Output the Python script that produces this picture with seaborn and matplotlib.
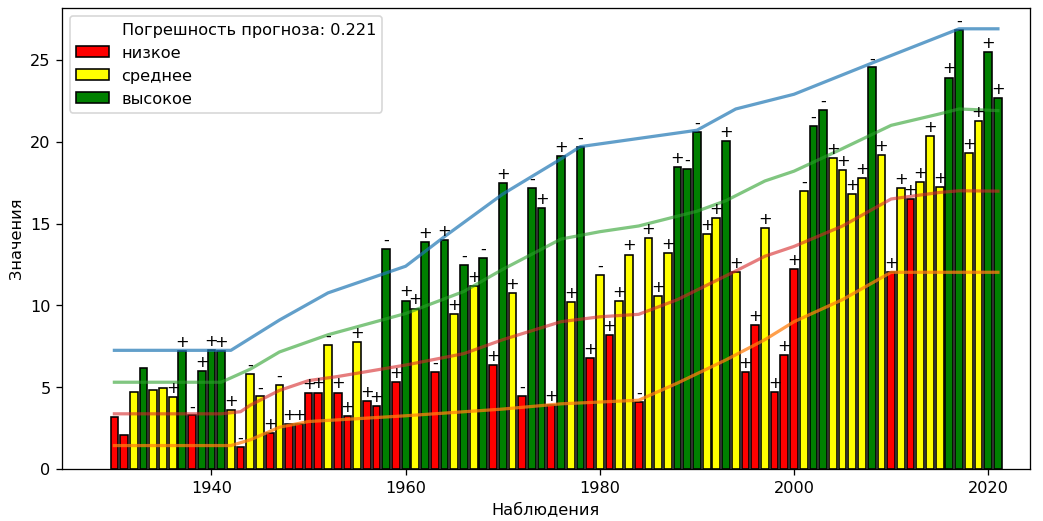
import matplotlib
matplotlib.use("Agg")
import matplotlib.pyplot as plt
import pandas as pd
import seaborn as sns
from matplotlib.patches import Patch
from matplotlib.lines import Line2D

# Observations by year
years = list(range(1930, 2022))
values = [
    3.17, 2.08, 4.73, 6.20, 4.84, 4.92, 4.39, 7.23, 3.27, 5.96,
    7.29, 7.18, 3.61, 1.37, 5.80, 4.43, 2.18, 5.14, 2.75, 2.75,
    4.63, 4.67, 7.59, 4.67, 3.25, 7.74, 4.16, 3.82, 13.45, 5.31,
    10.29, 9.80, 13.88, 5.92, 13.98, 9.47, 12.45, 11.16, 12.90, 6.37,
    17.49, 10.76, 4.47, 17.19, 15.96, 3.92, 19.13, 10.20, 19.70, 6.78,
    11.88, 8.20, 10.25, 13.10, 4.12, 14.13, 10.59, 13.17, 18.47, 18.31,
    20.60, 14.37, 15.35, 20.04, 12.04, 5.92, 8.78, 14.74, 4.70, 6.98,
    12.19, 16.98, 20.96, 21.94, 18.98, 18.27, 16.82, 17.76, 24.54, 19.17,
    12.02, 17.19, 16.47, 17.53, 20.35, 17.25, 23.92, 26.84, 19.29, 21.27,
    25.46, 22.66,
]
L, M, H = "низкое", "среднее", "высокое"
levels = [
    L, L, M, H, M, M, M, H, L, H,
    H, H, M, L, M, M, L, M, L, L,
    L, L, M, L, L, M, L, L, H, L,
    H, M, H, L, H, M, H, M, H, L,
    H, M, L, H, H, L, H, M, H, L,
    M, L, M, M, L, M, M, M, H, H,
    H, M, M, H, M, L, L, M, L, L,
    L, M, H, H, M, M, M, M, H, M,
    L, M, L, M, M, M, H, H, M, M,
    H, H,
]
signs = [
    "", "", "", "", "", "", "+", "+", "-", "+",
    "+", "+", "+", "-", "-", "-", "+", "-", "+", "+",
    "+", "+", "-", "+", "+", "+", "+", "+", "-", "+",
    "+", "+", "+", "-", "+", "+", "-", "+", "-", "+",
    "+", "+", "-", "-", "+", "+", "+", "+", "-", "+",
    "-", "+", "+", "+", "-", "+", "+", "+", "+", "-",
    "-", "+", "+", "+", "+", "+", "+", "+", "+", "+",
    "+", "-", "-", "-", "+", "+", "+", "+", "-", "+",
    "+", "+", "+", "+", "+", "+", "+", "-", "+", "+",
    "+", "+",
]

# Envelope lines
upper_x = [1930, 1942, 1947, 1952, 1960, 1964, 1970, 1976, 1978, 1984, 1990, 1994, 2000, 2008, 2017, 2021]
upper_y = [7.25, 7.25, 9.1, 10.76, 12.39, 14.2, 16.8, 18.95, 19.7, 20.2, 20.7, 22.0, 22.9, 24.8, 26.9, 26.9]
high_x = [1930, 1941, 1944, 1947, 1952, 1960, 1966, 1970, 1976, 1980, 1984, 1988, 1990, 1993, 1997, 2000, 2004, 2010, 2015, 2017, 2021]
high_y = [5.3, 5.3, 6.1, 7.15, 8.2, 9.5, 10.85, 12.2, 14.05, 14.5, 14.85, 15.45, 15.75, 16.4, 17.6, 18.2, 19.3, 21.0, 21.7, 22.0, 21.9]
low_x = [1930, 1941, 1943, 1944, 1947, 1950, 1953, 1960, 1966, 1970, 1976, 1980, 1984, 1988, 1994, 1997, 2000, 2005, 2010, 2015, 2017, 2021]
low_y = [3.37, 3.37, 3.5, 3.9, 4.8, 5.4, 5.65, 6.35, 7.05, 7.9, 9.0, 9.3, 9.45, 10.35, 12.1, 13.0, 13.6, 14.85, 16.5, 16.9, 17.0, 16.98]
lower_x = [1930, 1942, 1944, 1947, 1950, 1953, 1960, 1970, 1976, 1984, 1988, 1993, 1997, 2000, 2005, 2010, 2021]
lower_y = [1.43, 1.43, 1.78, 2.55, 2.9, 3.0, 3.25, 3.66, 3.98, 4.2, 5.25, 6.67, 7.9, 9.0, 10.35, 12.02, 12.02]

error_text = "Погрешность прогноза: 0.221"
palette = {L: "red", M: "yellow", H: "green"}

df = pd.DataFrame({"year": years, "value": values, "level": levels, "sign": signs})

fig = plt.figure(figsize=(9, 4.5), dpi=1043 / 9)
ax = fig.add_axes([0.0594, 0.0998, 0.9281, 0.8848])

sns.barplot(data=df, x="year", y="value", hue="level", palette=palette,
            native_scale=True, dodge=False, width=0.8, saturation=1,
            edgecolor="black", linewidth=1, legend=False, ax=ax)

sns.lineplot(x=upper_x, y=upper_y, color="#1f77b4", alpha=0.7, linewidth=2, ax=ax)
sns.lineplot(x=high_x, y=high_y, color="#2ca02c", alpha=0.6, linewidth=2, ax=ax)
sns.lineplot(x=low_x, y=low_y, color="#d62728", alpha=0.6, linewidth=2, ax=ax)
sns.lineplot(x=lower_x, y=lower_y, color="#ff7f0e", alpha=0.75, linewidth=2, ax=ax)

for yr, v, s in zip(years, values, signs):
    if s:
        ax.annotate(s, (yr, v), xytext=(0, 1), textcoords="offset points",
                    ha="center", va="bottom", fontsize=10, color="black")

ax.set_xlim(1924.6, 2024.3)
ax.set_ylim(0, 28.2)
ax.set_xlabel("Наблюдения")
ax.set_ylabel("Значения")

handles = [Line2D([], [], linestyle="none"),
           Patch(facecolor="red", edgecolor="black"),
           Patch(facecolor="yellow", edgecolor="black"),
           Patch(facecolor="green", edgecolor="black")]
ax.legend(handles, [error_text, L, M, H], loc="upper left")

fig.savefig("out.png", dpi=1043 / 9)
